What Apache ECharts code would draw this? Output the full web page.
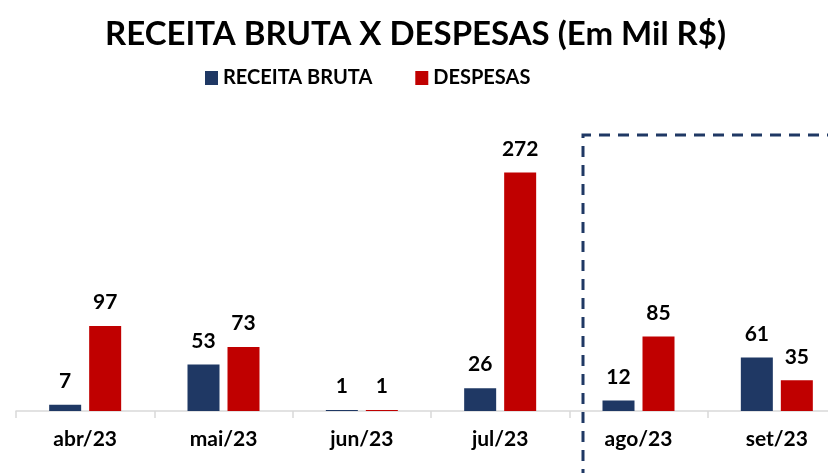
<!DOCTYPE html>
<html>
<head>
<meta charset="utf-8">
<script src="https://cdn.jsdelivr.net/npm/echarts@6/dist/echarts.min.js"></script>
<style>
  html, body { margin: 0; padding: 0; background: #fff; }
  #chart { width: 828px; height: 473px; }
</style>
</head>
<body>
<div id="chart"></div>
<script>
var categories = ['abr/23', 'mai/23', 'jun/23', 'jul/23', 'ago/23', 'set/23']
var receita = [7, 53, 1, 26, 12, 61]
var despesas = [97, 73, 1, 272, 85, 35]

var font = 'Lato'
var chart = echarts.init(document.getElementById('chart'))
chart.setOption({
  backgroundColor: '#ffffff',
  color: ['#1f3864', '#c00000'],
  title: {
    text: 'RECEITA BRUTA X DESPESAS (Em Mil R$)',
    left: 100,
    top: 13,
    textStyle: { fontFamily: font, fontWeight: 'bold', fontSize: 33, color: '#000' }
  },
  legend: {
    data: ['RECEITA BRUTA', 'DESPESAS'],
    top: 63,
    left: 200,
    itemWidth: 13,
    itemHeight: 14,
    itemGap: 43,
    icon: 'rect',
    textStyle: { fontFamily: font, fontWeight: 'bold', fontSize: 20, color: '#000' }
  },
  grid: { left: 16, width: 830, top: 148, height: 263, containLabel: false, outerBoundsMode: 'none' },
  xAxis: {
    type: 'category',
    data: categories,
    axisLine: { lineStyle: { color: '#d9d9d9', width: 1.5 } },
    axisTick: { show: true, length: 7, lineStyle: { color: '#d9d9d9', width: 1.5 } },
    axisLabel: { fontFamily: font, fontWeight: 'bold', fontSize: 21, color: '#000', margin: 18 }
  },
  yAxis: {
    type: 'value',
    min: 0,
    max: 300,
    show: false,
    splitLine: { show: false }
  },
  graphic: [{
    type: 'polyline',
    shape: { points: [[583, 480], [583, 135], [840, 135]] },
    style: { stroke: '#1f3864', lineWidth: 3, fill: null, lineDash: [11, 8] },
    z: 10
  }],
  series: [{
    name: 'RECEITA BRUTA',
    type: 'bar',
    barWidth: 32,
    barGap: '25%',
    data: receita,
    label: { show: true, position: 'top', distance: 13, fontFamily: font, fontWeight: 'bold', fontSize: 21, color: '#000' }
  }, {
    name: 'DESPESAS',
    type: 'bar',
    barWidth: 32,
    data: despesas,
    label: { show: true, position: 'top', distance: 13, fontFamily: font, fontWeight: 'bold', fontSize: 21, color: '#000' }
  }]
})
window.onresize = function () {
  chart.resize()
}
</script>
</body>
</html>
